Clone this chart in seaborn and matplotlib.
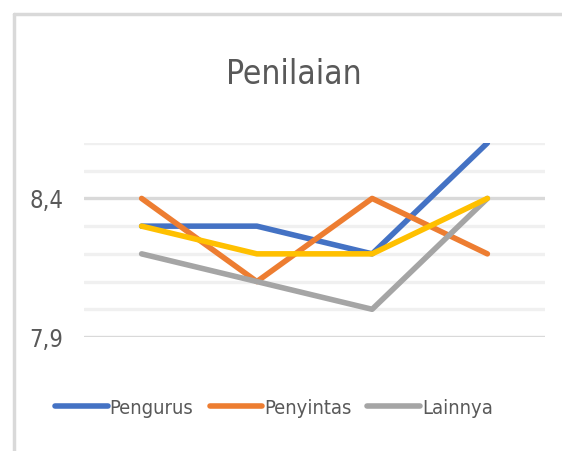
import matplotlib
matplotlib.use('Agg')
import matplotlib.pyplot as plt
import seaborn as sns
import pandas as pd
from matplotlib.lines import Line2D
from matplotlib.ticker import FixedLocator, FuncFormatter

# ====== Data ======
positions = [0, 1, 2, 3]
pengurus = [8.3, 8.3, 8.2, 8.6]
penyintas = [8.4, 8.1, 8.4, 8.2]
lainnya = [8.2, 8.1, 8.0, 8.4]
series4 = [8.3, 8.2, 8.2, 8.4]  # legend entry cut off in the reference

series_names = ["Pengurus", "Penyintas", "Lainnya", ""]
series_values = [pengurus, penyintas, lainnya, series4]
colors = ["#4472C4", "#ED7D31", "#A5A5A5", "#FFC000"]

major_ticks = [7.9, 8.4]
minor_ticks = [8.0, 8.1, 8.2, 8.3, 8.5, 8.6]

# ====== Style ======
sns.set_theme(style="white")
plt.rcParams['font.family'] = ['DejaVu Sans']
plt.rcParams['font.stretch'] = 'condensed'
txt_color = "#595959"

fig = plt.figure(figsize=(5.62, 4.51), dpi=100)
ax = fig.add_axes([84 / 562, 1 - 337 / 451, 461 / 562, (337 - 143) / 451])

for y in minor_ticks:
    ax.axhline(y, color="#f0f0f0", lw=2.4, zorder=0)
for y in major_ticks:
    ax.axhline(y, color="#d9d9d9", lw=2.4, zorder=0)

handles = []
for name, vals, c in zip(series_names, series_values, colors):
    df = pd.DataFrame({"x": positions, "y": vals})
    sns.lineplot(data=df, x="x", y="y", color=c, lw=4.0, ax=ax,
                 solid_capstyle="round", solid_joinstyle="round", zorder=3)
    if name:
        handles.append(Line2D([0], [0], color=c, lw=4.0, solid_capstyle="round", label=name))

ax.set_xlim(-0.5, 3.5)
ax.set_ylim(7.9, 8.6)
ax.yaxis.set_major_locator(FixedLocator(major_ticks))
ax.yaxis.set_major_formatter(FuncFormatter(lambda v, p: f"{v:.1f}".replace(".", ",")))
ax.set_xticks([])
ax.tick_params(axis="y", labelsize=17, colors=txt_color, length=0, pad=15)
ax.set_xlabel("")
ax.set_ylabel("")
for s in ax.spines.values():
    s.set_visible(False)
ax.patch.set_alpha(0)

fig.text(294 / 562, 1 - 75 / 451, "Penilaian", ha="center", va="center",
         fontsize=24, color=txt_color)

fig.legend(handles=handles, loc="center", bbox_to_anchor=(274 / 562, 1 - 408 / 451),
           ncol=3, frameon=False, fontsize=14.5, handlelength=2.6, handletextpad=0.1,
           columnspacing=0.8, labelcolor=txt_color)

# frame of the screenshot (top and left border)
fig.add_artist(Line2D([14 / 562, 1], [1 - 14 / 451, 1 - 14 / 451], color="#d9d9d9", lw=2.5,
                      transform=fig.transFigure))
fig.add_artist(Line2D([14 / 562, 14 / 562], [1 - 14 / 451, 0], color="#d9d9d9", lw=2.5,
                      transform=fig.transFigure))

plt.savefig("out.png", dpi=100)
plt.close()
